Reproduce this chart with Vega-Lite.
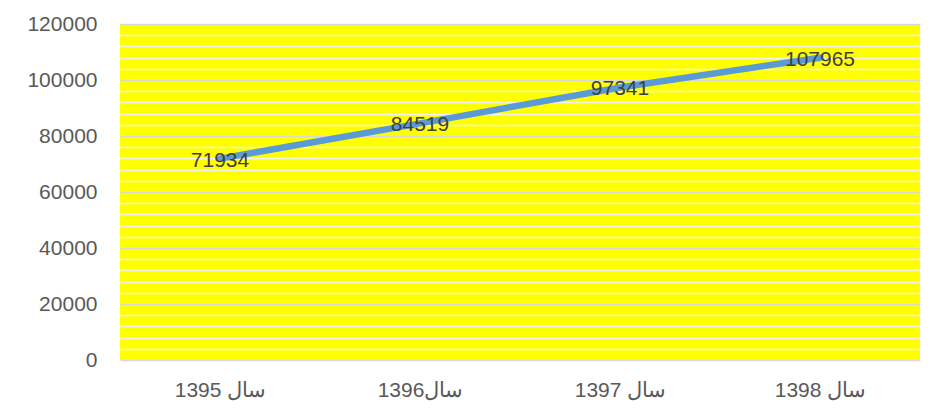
{
  "$schema": "https://vega.github.io/schema/vega-lite/v6.json",
  "autosize": "none",
  "width": 800,
  "height": 336,
  "padding": {"left": 120, "top": 24, "right": 21, "bottom": 50},
  "background": "#FFFFFF",
  "config": {
    "view": {"fill": "#FFFF00", "stroke": null},
    "font": "Liberation Sans"
  },
  "data": {
    "values": [
      {"year": "سال 1395", "value": 71934},
      {"year": "سال1396", "value": 84519},
      {"year": "سال 1397", "value": 97341},
      {"year": "سال 1398", "value": 107965}
    ]
  },
  "encoding": {
    "x": {
      "field": "year",
      "type": "nominal",
      "sort": null,
      "scale": {"type": "point", "padding": 0.5},
      "axis": {
        "title": null,
        "labelAngle": 0,
        "ticks": false,
        "domain": false,
        "grid": false,
        "labelFontSize": 21,
        "labelColor": "#595959",
        "labelPadding": 19
      }
    },
    "y": {
      "field": "value",
      "type": "quantitative",
      "scale": {"domain": [0, 120000], "nice": false},
      "axis": {
        "title": null,
        "values": [0, 4000, 8000, 12000, 16000, 20000, 24000, 28000, 32000, 36000, 40000, 44000, 48000, 52000, 56000, 60000, 64000, 68000, 72000, 76000, 80000, 84000, 88000, 92000, 96000, 100000, 104000, 108000, 112000, 116000, 120000],
        "format": "d",
        "labelExpr": "datum.value % 20000 === 0 ? datum.label : ''",
        "ticks": false,
        "domain": false,
        "grid": true,
        "gridColor": {"condition": {"test": "datum.value % 20000 === 0", "value": "#D9D9D9"}, "value": "#F2F2F2"},
        "gridWidth": 1.5,
        "gridOpacity": 1,
        "labelFontSize": 21,
        "labelColor": "#595959",
        "labelPadding": 23
      }
    }
  },
  "layer": [
    {
      "mark": {"type": "line", "color": "#5B9BD5", "strokeWidth": 6.5, "strokeCap": "round"}
    },
    {
      "mark": {"type": "text", "fontSize": 21, "color": "#404040", "baseline": "middle", "dy": 2},
      "encoding": {"text": {"field": "value", "type": "quantitative", "format": "d"}}
    }
  ]
}
